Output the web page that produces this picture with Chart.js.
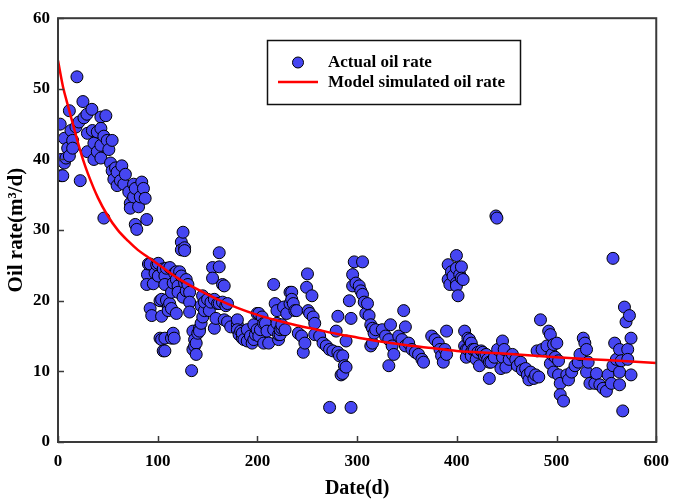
<!DOCTYPE html>
<html>
<head>
<meta charset="utf-8">
<script src="https://cdn.jsdelivr.net/npm/chart.js@4.4.1/dist/chart.umd.min.js"></script>
<style>
  html, body { margin: 0; padding: 0; background: #fff; }
  #wrap { width: 678px; height: 499px; }
</style>
</head>
<body>
<div id="wrap"><canvas id="c" width="678" height="499"></canvas></div>
<script>
// ---------- DATA ----------
const xTickValues = [0, 100, 200, 300, 400, 500, 600];
const yTickValues = [0, 10, 20, 30, 40, 50, 60];

// Actual oil rate (scatter): day, rate (m3/d)
const actualDays = [
  2.2,3.2,3.2,4.8,6.4,6.4,8,9.7,11.4,11.4,13,14.7,14.7,18,19,21,22.3,25,26,29,29.5,29.5,34,34.5,36,36,39.4,39.4,43,43,43,43,46,46,48,49.4,51,52.7,54.3,54.3,56,57.7,59.3,59.3,62.6,64,66,67.6,71,72.5,72.5,75.8,75.8,77.5,77.5,79,80.8,82.5,84,85.7,87.4,89,
  89.7,89,90.7,92.4,92.4,94,95.6,97.3,99,100.6,100.6,102.3,102.3,103.9,103.9,103.9,105.5,105.5,107.2,107.2,107.2,107.2,108.8,108.8,110.5,110.5,112,112.2,113.8,113.8,113.8,115.5,115.5,116.5,117,118.7,118.7,118.7,120.4,120.4,122,123.7,123.7,123.7,125.4,125.4,127,127,127,128.6,128.6,130.3,132,132,132,134,
  135.3,135.3,137,137,138.6,138.6,140.2,141.9,141.9,143.5,143.5,145.2,145,146.9,146.9,150,151.8,153.4,155,155,156.8,156.8,158.4,160,161.7,161.7,161.7,165,165,166.7,166.7,168.3,170,170,
  173.2,179.9,179.9,179.9,181.6,183.2,184.8,184.8,186.5,189.8,189.8,193,194.7,196.4,196.4,198,199.7,199.7,201.4,201.4,203,204.7,206.3,206.3,208,209.6,211.3,216.3,216.3,217.8,219.6,219.6,221.2,221.2,222.8,222.8,224.5,224.5,226.2,227.7,229.4,232.7,232.7,234.4,234.4,236,237.6,239.3,
  241,244.3,246,247.6,249.3,250.2,250.9,252.5,254.7,255.9,257.5,257.5,262.4,265.8,269.1,272.4,272.4,275.7,279,280.7,280.7,282.3,283.9,285.6,285.6,287.2,288.9,288.9,292.2,293.9,293.9,
  295.5,295.5,297.1,298.8,302.1,303.7,305.4,305.4,307.1,308.7,310.4,312,313.7,313.7,315.4,315.4,317,318.6,
  325.2,328.5,331.8,331.8,333.5,335.1,336.8,341.7,345,346.7,348.4,348.4,351.7,355,358.3,361.6,365,366.6,374.8,378.1,381.4,383.1,384.7,386.4,388,389.7,389.7,
  391.3,391.3,393,394.6,396.2,399.6,399.6,399.6,399.6,401.2,402.9,404.6,404.6,406.3,
  407.8,407.8,409.5,409.5,411.1,411.1,412.7,414.5,414.5,414.5,416.1,417.7,419.4,421.1,422.7,424.4,426,427.7,429.4,431,432.6,432.6,434.3,437.6,439.2,440.2,440.9,444.2,445.8,445.8,447.5,449.2,452.5,455.8,459.1,460.7,464,465.7,469,470.7,472.3,474,477.3,479,482.2,
  480.5,483.9,485.5,490.4,492.1,493.8,493.8,495.4,497,497,498.7,500.3,502,502,503.7,503.7,507,510.3,512,515.2,518.5,521.8,523.5,526.8,528.4,530.1,530.1,531.7,533.5,538.4,540.1,543.4,546.7,550,551.7,555,556.6,556.6,558.3,560,563.2,563.2,563.2,564.9,566.4,568.1,569.7,571.4,571.4,573.1,574.7,574.7
];
const actualRates = [
  45,40,37.7,37.7,43,39.5,40.2,41.6,46.9,40.5,44.1,42.7,41.6,44.6,51.7,45.3,37,48.2,45.9,46.4,43.7,41.1,47.1,44.1,42.3,40,43.9,41.1,46,44.4,42,40.2,43.3,31.7,46.2,42.7,41.4,39.5,42.7,38.4,37.2,38.8,38.2,36.3,37,39.1,36.5,37.9,35.4,33.8,33.1,36.5,34.7,35.9,30.8,30.1,33.3,34.7,36.8,35.9,34.5,31.5,
  23.7,22.3,25.2,25.2,18.9,17.9,22.4,23.9,25.1,25.3,23.5,20,14.7,20.2,17.8,14.5,24.5,12.9,23.5,22.3,14.7,12.9,24.6,20.1,19.1,18.6,19.6,24.7,21.2,18.9,14.7,22.5,15.4,14.7,23.9,24.1,23,18.2,22.1,21.2,24.1,28.3,27.2,23.5,29.7,20.5,27.5,27.1,22.5,23,21.4,22.3,21.2,19.8,18.4,10.1,
  15.7,13.1,14.5,13.6,14,12.4,15.4,16.1,15.7,16.8,19.3,17.7,20.7,18.6,19.8,20.2,18.6,19.8,24.7,23.2,20.2,16.1,17.5,19.6,26.8,24.8,19.6,22.3,19.8,22.1,17.3,19.3,19.6,17,
  16.3,16.6,17.3,15.9,15.2,15.7,14.7,15.4,14.5,15.9,14.3,15,14,14.5,16.6,15.2,18.2,15.9,15,18.2,15.9,17.7,16.8,14,16.8,15.7,14,22.3,15.9,19.6,16.8,18.6,14.5,15.2,15.2,15.9,16.1,16.6,19.1,15.9,18.2,19.6,21.2,21.2,20.2,19.6,18.6,18.6,
  15.4,15,12.7,14,21.9,23.8,18.6,18.2,20.7,17.7,16.8,15.2,15,14,13.6,13.1,4.9,12.9,15.7,17.8,12.7,12.2,9.5,12.2,9.7,10.8,10.6,14.3,20,17.5,4.9,
  23.7,22.1,25.5,22.5,22.1,21.4,25.5,20.9,19.8,18.2,19.6,17.9,16.6,13.6,16.1,14,15.4,15.9,
  15.9,15,14.5,10.8,16.6,13.6,12.4,15,14.5,18.6,16.3,13.6,14,13.1,12.7,12.4,11.7,11.3,15,14.5,14,13.1,12.2,11.3,13.1,15.7,12.4,
  25.1,23,22.3,24.1,23.5,26.4,22.5,22.1,24.6,20.7,23.7,24.8,23.2,23,
  15.7,13.6,13.1,12,14.7,13.1,14.5,14,12.7,12.2,13.1,13.1,11.7,12.7,10.8,12.9,12.7,12.2,12.4,11.7,11.3,9,11.3,12,32,31.7,13.1,10.4,14.3,12,13.1,10.6,11.7,12.4,11.7,10.8,11.3,10.2,10.4,9.5,8.8,9.9,9,9.5,9.2,
  12.9,17.3,13.1,13.6,15.7,15.2,11.1,12.4,13.8,9.9,12,14,11.5,9.5,8.3,6.7,5.8,9.5,8.8,9.9,10.8,11.3,12.4,14.7,14,13.1,9.9,11.3,8.3,8.3,9.7,8.1,7.6,7.2,9.5,8.3,10.8,26,14,11.7,13.1,9.9,8.1,11.5,4.4,19.1,17,13.1,11.7,17.9,14.7,9.5
];

// Model simulated oil rate (line): day, rate (m3/d)
const modelDays  = [0, 5, 10, 15, 20, 25, 30, 40, 50, 60, 70, 80, 90, 100, 120, 140, 160, 180, 200, 220, 240, 260, 280, 300, 325, 350, 375, 400, 450, 500, 550, 600];
const modelRates = [54.0, 50.3, 47.6, 45.0, 42.4, 40.0, 38.0, 34.6, 32.0, 30.0, 28.5, 27.2, 26.2, 25.2, 23.2, 21.6, 20.2, 19.0, 18.0, 17.2, 16.5, 15.9, 15.3, 14.8, 14.2, 13.7, 13.3, 12.9, 12.5, 12.0, 11.6, 11.2];

const seriesNames = ['Actual oil rate', 'Model simulated oil rate'];
const xTitle = 'Date(d)';
const yTitle = 'Oil rate(m\u00B3/d)';

// ---------- STYLE ----------
const FONT = "'Liberation Serif', 'Times New Roman', Times, serif";
const POINT_FILL = '#4646F2';
const LINE_RED = '#FF0000';
const FRAME = '#3a3a3a';

const scatterData = actualDays.map((d, i) => ({ x: d, y: actualRates[i] }));
const modelData = modelDays.map((d, i) => ({ x: d, y: modelRates[i] }));

const framePlugin = {
  id: 'frameAndTicks',
  afterDatasetsDraw(chart) {
    const { ctx, chartArea: a, scales } = chart;
    ctx.save();
    // inward ticks
    ctx.strokeStyle = FRAME;
    ctx.lineWidth = 1.5;
    ctx.beginPath();
    xTickValues.forEach(v => {
      const px = Math.round(scales.x.getPixelForValue(v)) + 0.5;
      ctx.moveTo(px, a.bottom);
      ctx.lineTo(px, a.bottom - 6);
    });
    yTickValues.forEach(v => {
      const py = Math.round(scales.y.getPixelForValue(v)) + 0.5;
      ctx.moveTo(a.left, py);
      ctx.lineTo(a.left + 6, py);
    });
    ctx.stroke();
    // frame
    ctx.lineWidth = 2;
    ctx.strokeRect(a.left, a.top, a.right - a.left, a.bottom - a.top);
    ctx.restore();
  },
  afterDraw(chart) {
    const { ctx } = chart;
    ctx.save();
    // legend box
    const bx = 267, by = 40, bw = 253, bh = 64;
    ctx.fillStyle = '#ffffff';
    ctx.fillRect(bx, by, bw, bh);
    ctx.strokeStyle = '#111';
    ctx.lineWidth = 1.5;
    ctx.strokeRect(bx + 0.5, by + 0.5, bw, bh);
    // marker
    ctx.beginPath();
    ctx.arc(298, 62.5, 5.5, 0, Math.PI * 2);
    ctx.fillStyle = POINT_FILL;
    ctx.fill();
    ctx.lineWidth = 1;
    ctx.strokeStyle = '#000';
    ctx.stroke();
    // red line
    ctx.beginPath();
    ctx.moveTo(278, 82);
    ctx.lineTo(318, 82);
    ctx.strokeStyle = LINE_RED;
    ctx.lineWidth = 2.5;
    ctx.stroke();
    // texts
    ctx.fillStyle = '#000';
    ctx.font = "bold 17px " + FONT;
    ctx.textBaseline = 'middle';
    ctx.textAlign = 'left';
    ctx.fillText(seriesNames[0], 328, 63);
    ctx.fillText(seriesNames[1], 328, 82.5);
    ctx.restore();
  }
};

new Chart(document.getElementById('c'), {
  type: 'scatter',
  data: {
    datasets: [
      {
        label: seriesNames[0],
        data: scatterData,
        order: 1,
        pointRadius: 6,
        pointHoverRadius: 6,
        pointBackgroundColor: POINT_FILL,
        pointBorderColor: '#000',
        pointBorderWidth: 1,
        showLine: false
      },
      {
        label: seriesNames[1],
        type: 'line',
        data: modelData,
        order: 0,
        borderColor: LINE_RED,
        borderWidth: 2.5,
        pointRadius: 0,
        fill: false,
        tension: 0.4,
        cubicInterpolationMode: 'monotone'
      }
    ]
  },
  options: {
    responsive: false,
    animation: false,
    devicePixelRatio: 1,
    layout: { padding: { top: 7, right: 14, left: 0, bottom: 0 } },
    plugins: { legend: { display: false }, tooltip: { enabled: false } },
    scales: {
      x: {
        type: 'linear',
        min: 0, max: 600,
        afterBuildTicks(scale) { scale.ticks = xTickValues.map(v => ({ value: v })); },
        afterFit(scale) { scale.height = 57; },
        grid: { display: false, drawTicks: false, tickLength: 0 },
        border: { display: false },
        ticks: { color: '#000', padding: 9, maxRotation: 0, font: { family: FONT, weight: 'bold', size: 17 } },
        title: { display: true, text: xTitle, color: '#000', padding: { top: 0, bottom: 0 }, font: { family: FONT, weight: 'bold', size: 20, lineHeight: 1 } }
      },
      y: {
        type: 'linear',
        min: 0, max: 60,
        afterBuildTicks(scale) { scale.ticks = yTickValues.map(v => ({ value: v })); },
        afterFit(scale) { scale.width = 58; },
        grid: { display: false, drawTicks: false, tickLength: 0 },
        border: { display: false },
        ticks: { color: '#000', padding: 8, font: { family: FONT, weight: 'bold', size: 17 } },
        title: { display: true, text: yTitle, color: '#000', padding: { top: 6, bottom: 0 }, font: { family: FONT, weight: 'bold', size: 21, lineHeight: 1 } }
      }
    }
  },
  plugins: [framePlugin]
});
</script>
</body>
</html>
